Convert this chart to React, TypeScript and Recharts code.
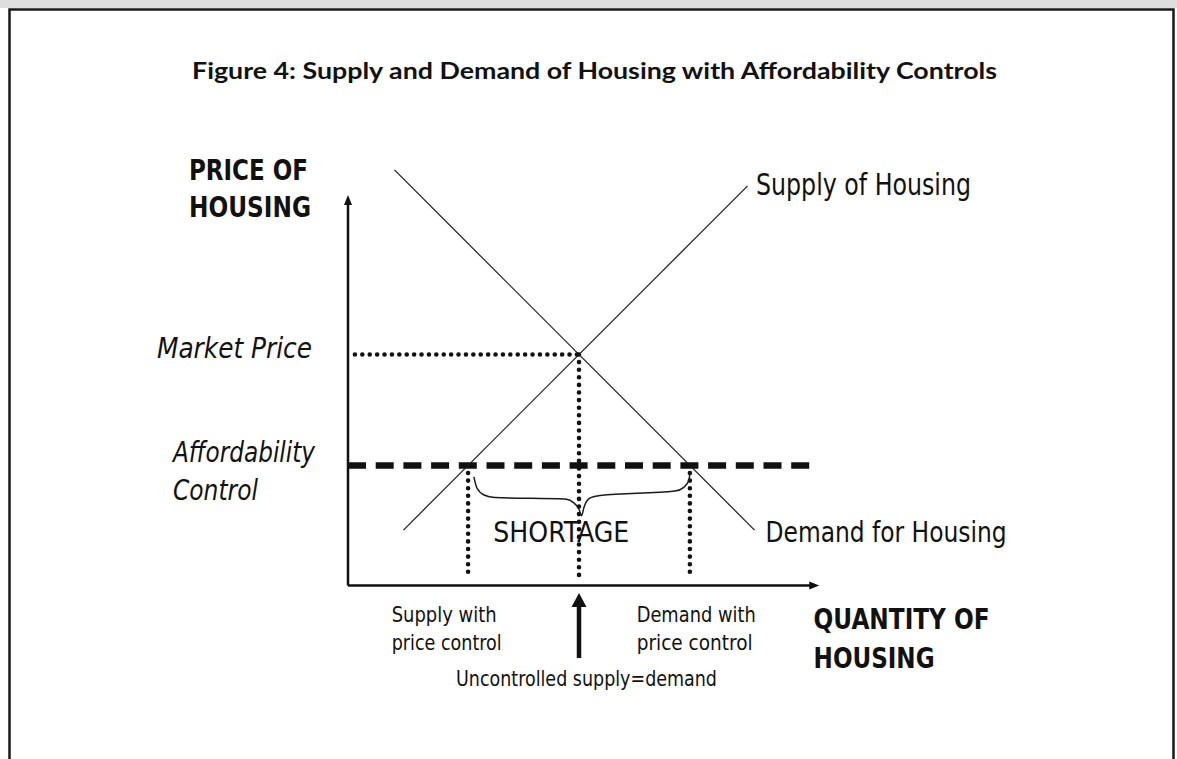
import React from 'react';
import { ComposedChart, Line, XAxis, YAxis, ReferenceLine, ReferenceDot } from 'recharts';

// ---- data (price & quantity in arbitrary units) ----
const supplyCurve = [
  { q: 2.4, p: 2.4 },
  { q: 17.3, p: 17.3 },
];
const demandCurve = [
  { q: 2.0, p: 18.0 },
  { q: 17.6, p: 2.4 },
];
const marketPrice = 10;
const equilibriumQty = 10;
const controlPrice = 5.2;
const supplyAtControl = 5.2;
const demandAtControl = 14.8;
const shortageBrace = [
  { q: 5.45, p: 4.7 },
  { q: 5.58, p: 4.22 },
  { q: 5.89, p: 3.92 },
  { q: 6.36, p: 3.81 },
  { q: 9.39, p: 3.74 },
  { q: 9.78, p: 3.58 },
  { q: 10.0, p: 3.3 },
  { q: 10.11, p: 3.02 },
  { q: 10.22, p: 3.4 },
  { q: 10.48, p: 3.79 },
  { q: 10.91, p: 3.9 },
  { q: 14.16, p: 4.09 },
  { q: 14.55, p: 4.26 },
  { q: 14.76, p: 4.57 },
  { q: 14.81, p: 4.94 },
];
const xDomain: [number, number] = [0, 20.4];
const yDomain: [number, number] = [-4, 18];
const yAxisTop = 16.9;
const dashedEnd = 20.1;
const dottedStart = 0.3;
const uncontrolledArrow = { from: -3.14, to: -0.6, tip: -0.33 };

const titleText = 'Figure 4: Supply and Demand of Housing with Affordability Controls';

const INK = '#111';
const NARROW = '"Liberation Sans Narrow", "Arial Narrow", "DejaVu Sans Condensed", "Liberation Sans", Arial, sans-serif';

const upArrow = (w: number, h: number) => (props: any) => {
  const { cx, cy } = props;
  return <polygon points={`${cx},${cy} ${cx - w / 2},${cy + h} ${cx + w / 2},${cy + h}`} fill={INK} />;
};
const rightArrow = (w: number, h: number) => (props: any) => {
  const { cx, cy } = props;
  return <polygon points={`${cx},${cy} ${cx - h},${cy - w / 2} ${cx - h},${cy + w / 2}`} fill={INK} />;
};

type Lbl = { t: string; x: number; y: number; len: number; size: number; bold?: boolean; italic?: boolean };
const labels: Lbl[] = [
  { t: 'PRICE OF', x: 189, y: 180, len: 119, size: 29, bold: true },
  { t: 'HOUSING', x: 189, y: 217, len: 122, size: 29, bold: true },
  { t: 'Market Price', x: 157, y: 358, len: 155, size: 29, italic: true },
  { t: 'Affordability', x: 173, y: 461.7, len: 142, size: 29, italic: true },
  { t: 'Control', x: 173, y: 500, len: 85, size: 29, italic: true },
  { t: 'Supply of Housing', x: 756, y: 195, len: 215, size: 30 },
  { t: 'Demand for Housing', x: 765.6, y: 541.7, len: 241, size: 29 },
  { t: 'SHORTAGE', x: 493.3, y: 541.7, len: 136, size: 29 },
  { t: 'Supply with', x: 391.7, y: 621.7, len: 105, size: 21 },
  { t: 'price control', x: 391.7, y: 650, len: 110, size: 21 },
  { t: 'Demand with', x: 636.7, y: 621.7, len: 119, size: 21 },
  { t: 'price control', x: 636.7, y: 650, len: 116, size: 21 },
  { t: 'Uncontrolled supply=demand', x: 456, y: 686, len: 261, size: 21 },
  { t: 'QUANTITY OF', x: 813.6, y: 628.5, len: 176, size: 29, bold: true },
  { t: 'HOUSING', x: 813.6, y: 668, len: 121, size: 29, bold: true },
];

export default function App() {
  const W = 1177;
  const H = 759;
  return (
    <div style={{ position: 'absolute', left: 0, top: 0, width: W, height: H, background: '#fff' }}>
      <ComposedChart
        width={W}
        height={H}
        margin={{ top: 169.7, left: 348, right: 357.76, bottom: 81.1 }}
      >
        <XAxis type="number" dataKey="q" domain={xDomain} hide allowDataOverflow />
        <YAxis type="number" dataKey="p" domain={yDomain} hide allowDataOverflow />

        {/* axes */}
        <ReferenceLine segment={[{ x: 0, y: 0 }, { x: 0, y: yAxisTop - 0.3 }]} stroke={INK} strokeWidth={2.5} />
        <ReferenceLine segment={[{ x: 0, y: 0 }, { x: xDomain[1] - 0.3, y: 0 }]} stroke={INK} strokeWidth={2.5} />
        <ReferenceDot x={0} y={yAxisTop} r={0} shape={upArrow(8, 10)} />
        <ReferenceDot x={xDomain[1]} y={0} r={0} shape={rightArrow(8, 10)} />

        {/* affordability control (dashed) */}
        <ReferenceLine
          segment={[{ x: 0, y: controlPrice }, { x: dashedEnd, y: controlPrice }]}
          stroke={INK}
          strokeWidth={6.5}
          strokeDasharray="18 9.7"
        />

        {/* dotted guides */}
        <ReferenceLine
          segment={[{ x: dottedStart, y: marketPrice }, { x: equilibriumQty, y: marketPrice }]}
          stroke={INK}
          strokeWidth={4.6}
          strokeDasharray="0 7.4"
          strokeLinecap="round"
        />
        <ReferenceLine
          segment={[{ x: equilibriumQty, y: marketPrice }, { x: equilibriumQty, y: dottedStart }]}
          stroke={INK}
          strokeWidth={4.6}
          strokeDasharray="0 7.6"
          strokeLinecap="round"
        />
        <ReferenceLine
          segment={[{ x: supplyAtControl, y: controlPrice }, { x: supplyAtControl, y: dottedStart }]}
          stroke={INK}
          strokeWidth={4.6}
          strokeDasharray="0 7.6"
          strokeLinecap="round"
        />
        <ReferenceLine
          segment={[{ x: demandAtControl, y: controlPrice }, { x: demandAtControl, y: dottedStart }]}
          stroke={INK}
          strokeWidth={4.6}
          strokeDasharray="0 7.6"
          strokeLinecap="round"
        />

        {/* curves */}
        <Line data={supplyCurve} dataKey="p" type="linear" stroke="#1a1a1a" strokeWidth={1.2} dot={false} activeDot={false} isAnimationActive={false} />
        <Line data={demandCurve} dataKey="p" type="linear" stroke="#1a1a1a" strokeWidth={1.2} dot={false} activeDot={false} isAnimationActive={false} />
        <Line data={shortageBrace} dataKey="p" type="monotone" stroke="#1a1a1a" strokeWidth={1.5} dot={false} activeDot={false} isAnimationActive={false} />

        {/* uncontrolled supply = demand arrow */}
        <ReferenceLine
          segment={[{ x: equilibriumQty, y: uncontrolledArrow.from }, { x: equilibriumQty, y: uncontrolledArrow.to }]}
          stroke={INK}
          strokeWidth={4.5}
        />
        <ReferenceDot x={equilibriumQty} y={uncontrolledArrow.tip} r={0} shape={upArrow(15, 14)} />
      </ComposedChart>

      <svg
        width={W}
        height={H}
        style={{ position: 'absolute', left: 0, top: 0, pointerEvents: 'none' }}
      >
        <rect x={0} y={0} width={W} height={8} fill="#dedede" />
        <path d="M9.5,770 L9.5,9.5 L1173.5,9.5 L1173.5,770" fill="none" stroke="#1a1a1a" strokeWidth={2.5} />
        <text
          x={192}
          y={79.3}
          fontFamily='Lato, "Open Sans", sans-serif'
          fontWeight={700}
          fontSize={23}
          textLength={805}
          lengthAdjust="spacingAndGlyphs"
          fill={INK}
        >
          {titleText}
        </text>
        {labels.map((l, i) => (
          <text
            key={i}
            x={l.x}
            y={l.y}
            fontFamily={NARROW}
            fontWeight={l.bold ? 700 : 400}
            fontStyle={l.italic ? 'italic' : 'normal'}
            fontSize={l.size}
            textLength={l.len}
            lengthAdjust="spacingAndGlyphs"
            fill={INK}
          >
            {l.t}
          </text>
        ))}
      </svg>
    </div>
  );
}
